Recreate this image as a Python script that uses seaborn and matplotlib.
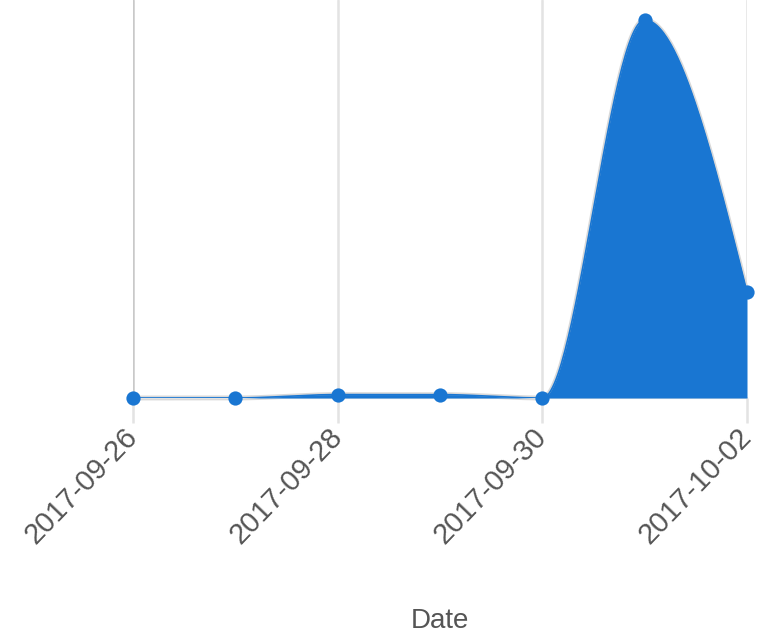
import numpy as np
import pandas as pd
import matplotlib
matplotlib.use('Agg')
import matplotlib.pyplot as plt
import matplotlib.dates as mdates
import seaborn as sns

# values (arbitrary units, y axis is hidden)
dates = ['2017-09-26', '2017-09-27', '2017-09-28', '2017-09-29',
         '2017-09-30', '2017-10-01', '2017-10-02']
values = [0, 0, 0.9, 0.9, 0, 100, 28]
tick_dates = ['2017-09-26', '2017-09-28', '2017-09-30', '2017-10-02']

blue = '#1976D2'
grid_c = '#e3e3e3'

sns.set_theme(style='white')
plt.rcParams['font.family'] = ['Liberation Sans', 'DejaVu Sans']

df = pd.DataFrame({'Date': pd.to_datetime(dates), 'value': values})
xn = mdates.date2num(df['Date'])
yv = np.asarray(values, dtype=float)


def monotone_curve(x, y, n=60):
    # monotone cubic (like d3.curveMonotoneX) through the data points
    h = np.diff(x)
    s = np.diff(y) / h
    m = np.zeros_like(y)
    for k in range(1, len(y) - 1):
        if s[k - 1] * s[k] > 0:
            w1 = 2 * h[k] + h[k - 1]
            w2 = h[k] + 2 * h[k - 1]
            m[k] = (w1 + w2) / (w1 / s[k - 1] + w2 / s[k])
    m[0] = (3 * s[0] - m[1]) / 2
    m[-1] = (3 * s[-1] - m[-2]) / 2
    xs, ys = [], []
    for k in range(len(h)):
        t = np.linspace(0, 1, n)
        h00 = 2 * t**3 - 3 * t**2 + 1
        h10 = t**3 - 2 * t**2 + t
        h01 = -2 * t**3 + 3 * t**2
        h11 = t**3 - t**2
        xs.append(x[k] + t * h[k])
        ys.append(h00 * y[k] + h10 * h[k] * m[k] + h01 * y[k + 1] + h11 * h[k] * m[k + 1])
    return np.concatenate(xs), np.concatenate(ys)


cx, cy = monotone_curve(xn, yv)

fig = plt.figure(figsize=(7.68, 6.39), dpi=100)
ax = fig.add_axes([133 / 768, 1 - 398 / 639, (747 - 133) / 768, 398 / 639])

ax.plot(cx, cy, color='#d9d9d9', lw=3.5, zorder=2, clip_on=False, solid_capstyle='round')
ax.fill_between(cx, 0, cy, color=blue, lw=0, zorder=3)
ax.plot(cx, cy, color=blue, lw=1.2, zorder=4)
sns.scatterplot(data=df, x='Date', y='value', s=105, color=blue, edgecolor=blue,
                linewidth=0, ax=ax, zorder=6, clip_on=False, legend=False)

ax.set_xlim(xn[0], xn[-1])
ax.set_ylim(0, 100 * 398 / 378)

ticks = mdates.date2num(pd.to_datetime(tick_dates))
ax.set_xticks(ticks)
ax.set_xticklabels(tick_dates)
for t in ticks:
    ax.axvline(t, color='#c9c9c9' if t == ticks[0] else grid_c, lw=1.8, zorder=1)
ax.set_yticks([])
ax.tick_params(axis='x', length=18, width=1.8, color=grid_c, pad=7,
               labelsize=21, labelcolor='#555555', bottom=True)
for lab in ax.get_xticklabels():
    lab.set_rotation(46)
    lab.set_ha('right')
    lab.set_va('center')
    lab.set_rotation_mode('anchor')

for side in ['top', 'left', 'right']:
    ax.spines[side].set_visible(False)
ax.spines['bottom'].set_color(grid_c)
ax.spines['bottom'].set_linewidth(1.5)

ax.set_ylabel('')
ax.set_xlabel('Date', fontsize=20, color='#555555')
ax.xaxis.set_label_coords(0.5, -0.56)
ax.xaxis.label.set_va('center')

fig.savefig('out.png', dpi=100)
